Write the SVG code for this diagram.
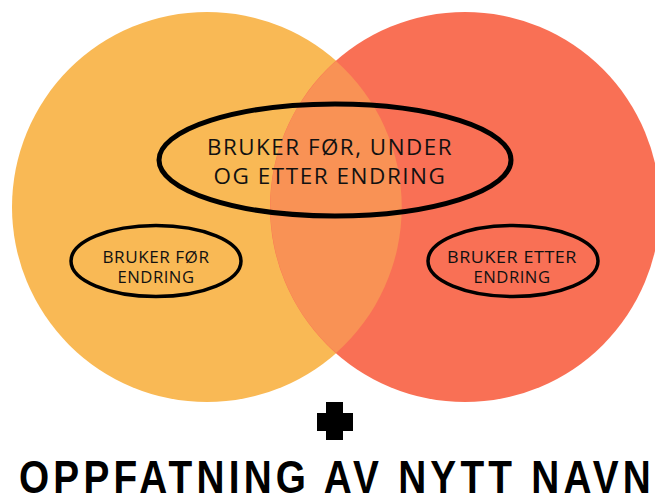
<svg xmlns="http://www.w3.org/2000/svg" width="655" height="499" viewBox="0 0 655 499">
<style>
.lbl{font-family:"Open Sans","DejaVu Sans",sans-serif;fill:#111;text-anchor:middle}
.big{font-size:22px;letter-spacing:1.5px}
.small{font-size:16px;letter-spacing:0.5px}
.ring{fill:none;stroke:#000}
.title{font-family:"Liberation Sans",Arial,sans-serif;font-size:46px;font-weight:bold;letter-spacing:5px;fill:#000}
</style>
<rect width="655" height="499" fill="#fff"/>
<g id="circles">
<circle id="left-circle" cx="207" cy="207" r="195" fill="#F9B955"/>
<circle id="right-circle" cx="465" cy="207" r="195" fill="#F97055"/>
<path id="overlap" d="M336 61 A195 195 0 0 1 336 353 A195 195 0 0 1 336 61 Z" fill="#F99255"/>
</g>
<g id="connectors"></g>
<g id="node-center">
<ellipse class="ring" cx="335" cy="160" rx="176" ry="56" stroke-width="5"/>
<text class="lbl big" x="330" y="155" textLength="246" lengthAdjust="spacingAndGlyphs">BRUKER FØR, UNDER</text>
<text class="lbl big" x="330" y="184" textLength="233" lengthAdjust="spacingAndGlyphs">OG ETTER ENDRING</text>
</g>
<g id="node-left">
<ellipse class="ring" cx="156" cy="261" rx="85" ry="35.5" stroke-width="3.5"/>
<text class="lbl small" x="156" y="263" textLength="107" lengthAdjust="spacingAndGlyphs">BRUKER FØR</text>
<text class="lbl small" x="156" y="283" textLength="77" lengthAdjust="spacingAndGlyphs">ENDRING</text>
</g>
<g id="node-right">
<ellipse class="ring" cx="513" cy="261" rx="85" ry="35.5" stroke-width="3.5"/>
<text class="lbl small" x="512" y="263" textLength="130" lengthAdjust="spacingAndGlyphs">BRUKER ETTER</text>
<text class="lbl small" x="512" y="283" textLength="77" lengthAdjust="spacingAndGlyphs">ENDRING</text>
</g>
<g id="plus" fill="#000">
<rect x="326" y="402" width="17" height="38"/>
<rect x="317" y="413" width="36" height="18"/>
</g>
<text id="title" class="title" x="19" y="493" textLength="636" lengthAdjust="spacingAndGlyphs">OPPFATNING AV NYTT NAVN</text>
</svg>
